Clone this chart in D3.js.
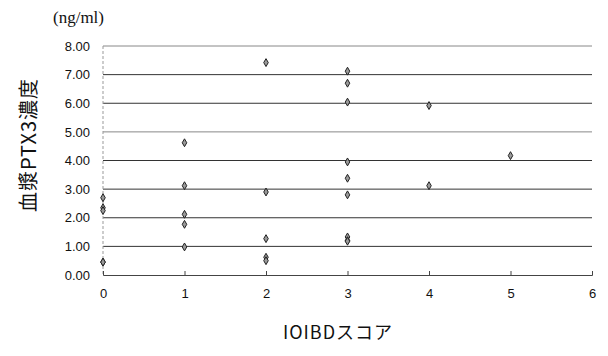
<!DOCTYPE html>
<html>
<head>
<meta charset="utf-8">
<script src="https://cdn.jsdelivr.net/npm/d3@7"></script>
<style>
  body { margin: 0; background: #fff; }
</style>
</head>
<body>
<div class="chart"></div>
<script>
// IOIBD score of each sample, and its plasma PTX3 level (ng/ml)
const scores = [0, 0, 0, 0, 0,
                1, 1, 1, 1, 1,
                2, 2, 2, 2, 2,
                3, 3, 3, 3, 3, 3, 3, 3, 3,
                4, 4,
                5];
const ptx3 = [2.70, 2.35, 2.25, 0.45, 0.45,
              4.62, 3.12, 2.12, 1.77, 0.98,
              7.42, 2.90, 1.27, 0.62, 0.50,
              7.12, 6.70, 6.04, 3.95, 3.38, 2.80, 1.33, 1.20, 1.18,
              5.92, 3.12,
              4.17];
const xTicks = [0, 1, 2, 3, 4, 5, 6];
const yTicks = [0, 1, 2, 3, 4, 5, 6, 7, 8];

const width = 608;
const height = 356;

const svg = d3.select('.chart')
    .append('svg')
    .attr('width', width)
    .attr('height', height);

const x = d3.scaleLinear().domain([0, 6]).range([103, 592]);
const y = d3.scaleLinear().domain([0, 8]).range([275, 46]);

// horizontal grid
svg.append('g')
    .selectAll('line')
    .data(yTicks.filter(d => d > 0))
    .enter()
    .append('line')
    .attr('x1', x(0))
    .attr('x2', x(6))
    .attr('y1', d => y(d))
    .attr('y2', d => y(d))
    .attr('stroke', d => (d == 8 || d == 5) ? '#888' : '#333')
    .attr('stroke-width', 1);

// left axis line (dashed, light)
svg.append('line')
    .attr('x1', x(0)).attr('x2', x(0))
    .attr('y1', y(8)).attr('y2', y(0))
    .attr('stroke', '#999')
    .attr('stroke-dasharray', '3,2');

// y axis labels
const yAxis = svg.append('g')
    .attr('transform', 'translate(' + x(0) + ',0)')
    .call(d3.axisLeft(y).tickValues(yTicks).tickFormat(d3.format('.2f')).tickSize(0).tickPadding(13));
yAxis.select('.domain').remove();
yAxis.selectAll('text')
    .attr('font-size', '13px')
    .attr('font-family', '"Liberation Sans", Arial, sans-serif')
    .attr('fill', '#111');

// x axis
const xAxis = svg.append('g')
    .attr('transform', 'translate(0,' + y(0) + ')')
    .call(d3.axisBottom(x).tickValues(xTicks).tickFormat(d3.format('d')).tickSize(-4).tickPadding(14));
xAxis.select('.domain').attr('stroke', '#444');
xAxis.selectAll('.tick line').attr('stroke', '#444');
xAxis.selectAll('text')
    .attr('font-size', '13px')
    .attr('font-family', '"Liberation Sans", Arial, sans-serif')
    .attr('fill', '#111');

// points
const pts = scores.map((s, i) => ({score: s, val: ptx3[i]}));
svg.append('g')
    .selectAll('path')
    .data(pts)
    .enter()
    .append('path')
    .attr('transform', d => 'translate(' + x(d.score) + ',' + y(d.val) + ')')
    .attr('d', d3.symbol().type(d3.symbolDiamond).size(18))
    .attr('fill', '#999')
    .attr('stroke', '#222')
    .attr('stroke-width', 1);

// unit label
svg.append('text')
    .attr('x', 53)
    .attr('y', 23)
    .attr('font-family', '"Liberation Serif", "Times New Roman", serif')
    .attr('font-size', '17px')
    .attr('fill', '#111')
    .text('(ng/ml)');

// y title
svg.append('text')
    .attr('transform', 'translate(36,145) rotate(-90)')
    .attr('text-anchor', 'middle')
    .attr('font-family', '"Noto Sans CJK JP", sans-serif')
    .attr('font-size', '20px')
    .attr('letter-spacing', '1px')
    .attr('fill', '#111')
    .text('血漿PTX3濃度');

// x title
svg.append('text')
    .attr('x', 338)
    .attr('y', 339)
    .attr('text-anchor', 'middle')
    .attr('font-family', '"Noto Sans CJK JP", sans-serif')
    .attr('font-size', '18px')
    .attr('letter-spacing', '1px')
    .attr('fill', '#111')
    .text('IOIBDスコア');
</script>
</body>
</html>
